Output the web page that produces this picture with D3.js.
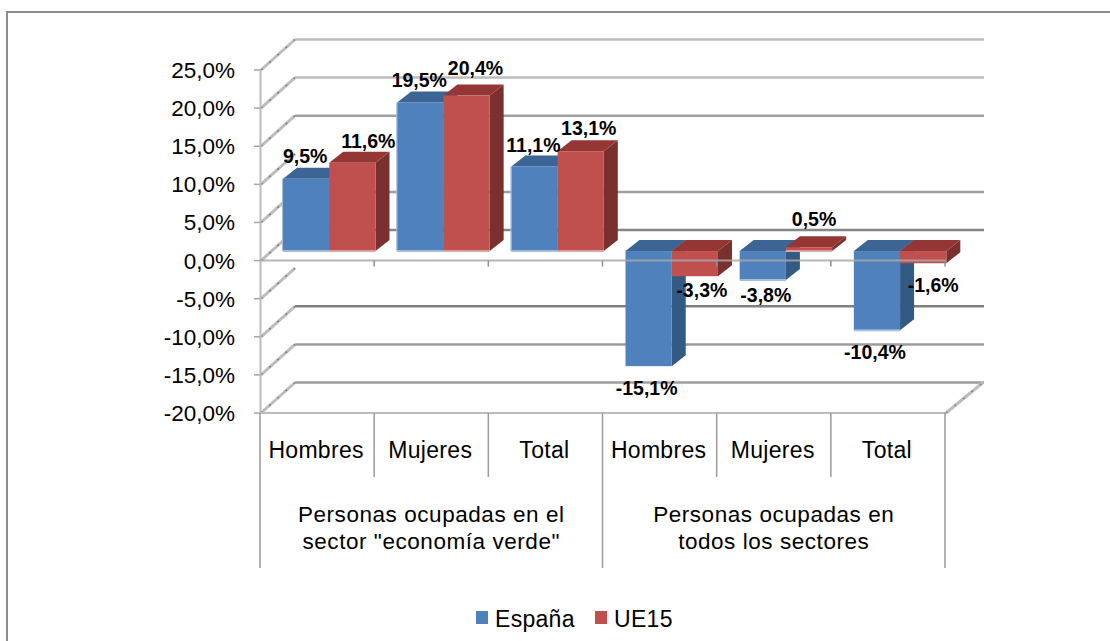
<!DOCTYPE html>
<html lang="es">
<head>
<meta charset="UTF-8">
<title>Personas ocupadas</title>
<style>
    html, body { margin: 0; padding: 0; background: #fff; overflow: hidden; }
    svg { display: block; font-family: "Liberation Sans", Arial, sans-serif; }
</style>
</head>
<body>
<div id="chart"></div>
<script src="https://d3js.org/d3.v7.min.js"></script>
<script>

// Data
const categories = ["Hombres", "Mujeres", "Total", "Hombres ", "Mujeres ", "Total "];
const categoryLabels = ["Hombres", "Mujeres", "Total", "Hombres", "Mujeres", "Total"];
const groupLabels = [
    ["Personas ocupadas en el", "sector \"economía verde\""],
    ["Personas ocupadas en", "todos los sectores"]
];
const seriesNames = ["España", "UE15"];
const espana = [9.5, 19.5, 11.1, -15.1, -3.8, -10.4];
const ue15 = [11.6, 20.4, 13.1, -3.3, 0.5, -1.6];
const yTicks = [25, 20, 15, 10, 5, 0, -5, -10, -15, -20];
// the back wall has no line at 10 and -5 in the original
const wallLines = [25, 20, 15, 5, 0, -10, -15, -20];

const width = 1110;
const height = 641;

// Colours: front, top face, side face, light edge
const blue = { front: "#4f81bd", top: "#3c6494", side: "#335a83", edge: "#a5bfdf" };
const red = { front: "#c0504d", top: "#943634", side: "#7a302e", edge: "#dca6a5" };
const wallColor = { "25": "#bcbcbc", "20": "#bcbcbc", "15": "#9f9f9f", "5": "#a0a0a0", "0": "#858585", "-10": "#808080", "-15": "#9c9c9c", "-20": "#9e9e9e" };

// Hand placed data labels, like the manual layout in the original [dx, dy] from the bar end
const espanaNudge = [[-1, -16], [-1, -15], [-1, -14], [-2, 29], [3, 22], [-2, 29]];
const ue15Nudge = [[16, -15], [9, -21], [8, -16], [7, 21], [5, -21], [10, 29]];

const fmt = v => v.toFixed(1).replace(".", ",") + "%";

const left = 260, right = 945;
const wallDx = 35, wallDy = -30.5; // depth of the back wall
const barDx = 23, barDy = -9.5;    // bars stand inside the depth
const sideDx = 14, sideDy = -11;   // depth of a bar

const y = d3.scaleLinear().domain([-20, 25]).range([413, 70]);
const x0 = d3.scaleBand().domain(categories).range([left, right]);
const x1 = d3.scaleBand().domain(seriesNames).range([0, x0.bandwidth() * 0.81]);

const svg = d3.select("#chart").append("svg")
    .attr("width", width)
    .attr("height", height);

// Outer frame, only its top and left edge fall inside the picture
svg.append("rect")
    .attr("x", 7).attr("y", 12)
    .attr("width", 1200).attr("height", 700)
    .attr("fill", "#fff")
    .attr("stroke", "#8c8c8c")
    .attr("stroke-width", 2);

// Back wall lines
svg.selectAll(".wall")
    .data(wallLines)
    .enter().append("line")
    .attr("class", "wall")
    .attr("x1", left + wallDx).attr("x2", right + wallDx + 4)
    .attr("y1", d => y(d) + wallDy).attr("y2", d => y(d) + wallDy)
    .attr("stroke", d => wallColor[d])
    .attr("stroke-width", 2.5);

// Slanted side wall lines, light with darker flecks
[["#bdbdbd", 3, null], ["#808080", 1.5, "2 9"]].forEach(s => {
    svg.selectAll(null)
        .data(yTicks)
        .enter().append("line")
        .attr("x1", left + 1).attr("x2", left + wallDx)
        .attr("y1", d => y(d)).attr("y2", d => y(d) + wallDy)
        .attr("stroke", s[0])
        .attr("stroke-width", s[1])
        .attr("stroke-dasharray", s[2]);
    // floor, right side
    svg.append("line")
        .attr("x1", right + 1).attr("x2", right + wallDx + 3)
        .attr("y1", y(-20)).attr("y2", y(-20) + wallDy)
        .attr("stroke", s[0])
        .attr("stroke-width", s[1])
        .attr("stroke-dasharray", s[2]);
});

// Bars
function drawBars(name, values, colors) {
    const g = svg.append("g");
    const rows = values.map((v, i) => {
        const xa = x0(categories[i]) + barDx + x1(name);
        const xb = xa + x1.bandwidth();
        const yTop = y(Math.max(v, 0)) + barDy;
        const yBot = y(Math.min(v, 0)) + barDy;
        return { v, xa, xb, yTop, yBot };
    });
    rows.forEach(d => {
        g.append("polygon")
            .attr("points", [[d.xb, d.yTop], [d.xb + sideDx, d.yTop + sideDy], [d.xb + sideDx, d.yBot + sideDy], [d.xb, d.yBot]].join(" "))
            .attr("fill", colors.side);
        g.append("polygon")
            .attr("points", [[d.xa, d.yTop], [d.xa + sideDx, d.yTop + sideDy], [d.xb + sideDx, d.yTop + sideDy], [d.xb, d.yTop]].join(" "))
            .attr("fill", colors.top);
        g.append("rect")
            .attr("x", d.xa).attr("y", d.yTop)
            .attr("width", d.xb - d.xa).attr("height", d.yBot - d.yTop)
            .attr("fill", colors.front);
        // light strip at the foot of the bar
        if (d.v > 0 || (name === "España" && d.v > -12)) {
            g.append("rect")
                .attr("x", d.xa).attr("y", d.yBot - 1)
                .attr("width", d.xb - d.xa).attr("height", 2)
                .attr("fill", colors.edge);
        }
        // and on the left side of the blue ones that stand up
        if (d.v > 0 && name === "España") {
            g.append("rect")
                .attr("x", d.xa - 1).attr("y", d.yTop)
                .attr("width", 1).attr("height", d.yBot - d.yTop)
                .attr("fill", colors.edge);
        }
    });
    return rows;
}
const espanaRows = drawBars("España", espana, blue);
const ue15Rows = drawBars("UE15", ue15, red);

// Value axis
svg.append("line")
    .attr("x1", left + 0.5).attr("x2", left + 0.5)
    .attr("y1", y(25)).attr("y2", y(-20))
    .attr("stroke", "#bcbcbc").attr("stroke-width", 2);

svg.selectAll(".ytick")
    .data(yTicks)
    .enter().append("line")
    .attr("class", "ytick")
    .attr("x1", left - 6).attr("x2", left)
    .attr("y1", d => y(d)).attr("y2", d => y(d))
    .attr("stroke", "#a6a6a6").attr("stroke-width", 1.5);

svg.selectAll(".ylabel")
    .data(yTicks)
    .enter().append("text")
    .attr("class", "ylabel")
    .attr("x", 235)
    .attr("y", d => y(d) + 8)
    .attr("text-anchor", "end")
    .attr("font-size", 22.5)
    .attr("fill", "#000")
    .text(fmt);

// Zero line, over the negative bars
svg.append("line")
    .attr("x1", left).attr("x2", right + 1)
    .attr("y1", y(0)).attr("y2", y(0))
    .attr("stroke", "#a8a8a8").attr("stroke-width", 2).attr("stroke-opacity", 0.85);

svg.selectAll(".xtick")
    .data(categories)
    .enter().append("line")
    .attr("class", "xtick")
    .attr("x1", d => x0(d) + x0.step()).attr("x2", d => x0(d) + x0.step())
    .attr("y1", y(0)).attr("y2", y(0) + 6)
    .attr("stroke", "#8f8f8f").attr("stroke-width", 1.5);

// Category axis at the bottom
svg.append("line")
    .attr("x1", left).attr("x2", right + 1)
    .attr("y1", y(-20)).attr("y2", y(-20))
    .attr("stroke", "#bcbcbc").attr("stroke-width", 2);

categories.forEach((c, i) => {
    const xr = x0(c) + x0.step();
    const isGroupEnd = i % 3 === 2;
    svg.append("line")
        .attr("x1", xr).attr("x2", xr)
        .attr("y1", y(-20)).attr("y2", isGroupEnd ? 568 : 477)
        .attr("stroke", "#9a9a9a").attr("stroke-width", 1.5);
    svg.append("text")
        .attr("x", x0(c) + x0.step() / 2 - 1)
        .attr("y", 458)
        .attr("text-anchor", "middle")
        .attr("font-size", 23)
        .attr("letter-spacing", 0.3)
        .text(categoryLabels[i]);
});
svg.append("line")
    .attr("x1", left).attr("x2", left)
    .attr("y1", y(-20)).attr("y2", 568)
    .attr("stroke", "#9a9a9a").attr("stroke-width", 1.5);

groupLabels.forEach((lines, g) => {
    const cx = x0(categories[g * 3]) + x0.step() * 1.5;
    lines.forEach((t, k) => {
        svg.append("text")
            .attr("x", cx)
            .attr("y", 522 + k * 26.5)
            .attr("text-anchor", "middle")
            .attr("font-size", 22.5)
            .attr("letter-spacing", 0.55)
            .text(t);
    });
});

// Data labels
function drawLabels(rows, nudge) {
    svg.selectAll(null)
        .data(rows)
        .enter().append("text")
        .attr("x", (d, i) => (d.xa + d.xb) / 2 + nudge[i][0])
        .attr("y", (d, i) => (d.v >= 0 ? d.yTop : d.yBot) + nudge[i][1])
        .attr("text-anchor", "middle")
        .attr("font-size", 19.5)
        .attr("font-weight", "bold")
        .text(d => fmt(d.v));
}
drawLabels(espanaRows, espanaNudge);
drawLabels(ue15Rows, ue15Nudge);

// Legend
const legendX = [476, 595];
const legendColors = [blue.front, red.front];
seriesNames.forEach((s, i) => {
    svg.append("rect")
        .attr("x", legendX[i]).attr("y", 611)
        .attr("width", 12).attr("height", 13)
        .attr("fill", legendColors[i]);
    svg.append("text")
        .attr("x", legendX[i] + 19)
        .attr("y", 627)
        .attr("font-size", 23)
        .attr("letter-spacing", 0.3)
        .text(s);
});

</script>
</body>
</html>
